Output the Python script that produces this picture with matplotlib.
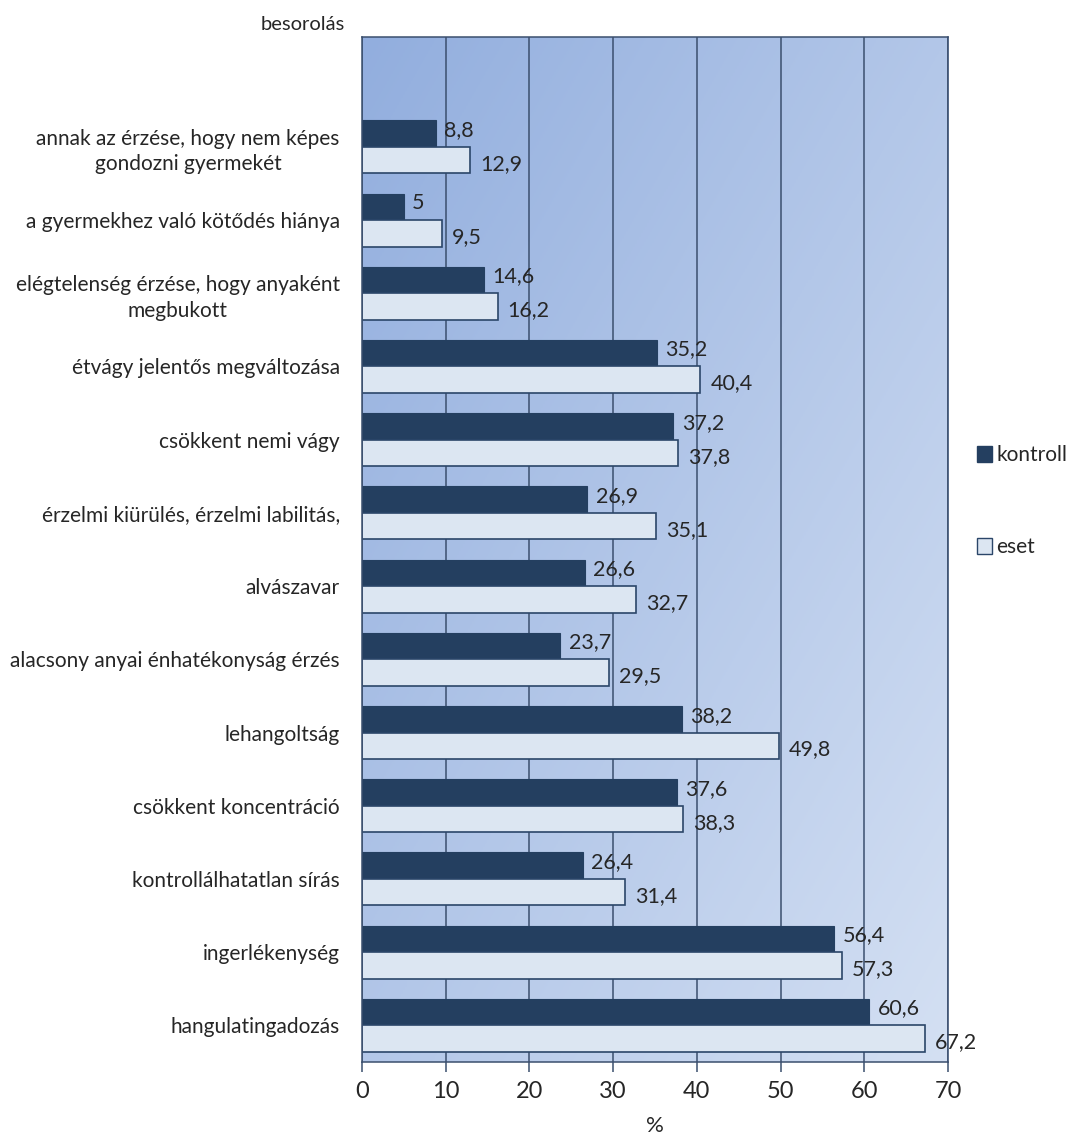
import numpy as np
import matplotlib.pyplot as plt
from matplotlib.colors import LinearSegmentedColormap
from matplotlib.patches import Patch

plt.rcParams["font.family"] = ["Lato", "DejaVu Sans"]

# symptom categories, top to bottom
categories = [
    "annak az érzése, hogy nem képes\ngondozni gyermekét",
    "a gyermekhez való kötődés hiánya",
    "elégtelenség érzése, hogy anyaként\nmegbukott",
    "étvágy jelentős megváltozása",
    "csökkent nemi vágy",
    "érzelmi kiürülés, érzelmi labilitás,",
    "alvászavar",
    "alacsony anyai énhatékonyság érzés",
    "lehangoltság",
    "csökkent koncentráció",
    "kontrollálhatatlan sírás",
    "ingerlékenység",
    "hangulatingadozás",
]
kontroll = [8.8, 5, 14.6, 35.2, 37.2, 26.9, 26.6, 23.7, 38.2, 37.6, 26.4, 56.4, 60.6]
eset = [12.9, 9.5, 16.2, 40.4, 37.8, 35.1, 32.7, 29.5, 49.8, 38.3, 31.4, 57.3, 67.2]
xticks = [0, 10, 20, 30, 40, 50, 60, 70]

DARK = "#243f60"
LIGHT = "#dce6f2"
EDGE = "#2b4669"
GRID = "#3b4f6e"
TEXT = "#262626"

fig = plt.figure(figsize=(10.7, 11.47), dpi=100)
ax = fig.add_axes([0.3383, 0.0741, 0.5477, 0.8936])

# diagonal blue gradient behind the plot area
gx, gy = np.meshgrid(np.linspace(0, 1, 300), np.linspace(0, 1, 300))
grad = 0.5 * (gx + gy)
cmap = LinearSegmentedColormap.from_list("bg", ["#92aede", "#d4e0f3"])
ax.imshow(grad, cmap=cmap, extent=[0, 1, 0, 1], transform=ax.transAxes,
          aspect="auto", origin="upper", zorder=0)

n = len(categories)
pos = np.arange(n)[::-1].astype(float)
h = 0.362

ax.barh(pos + h / 2, kontroll, height=h, color=DARK, edgecolor=DARK,
        linewidth=0.8, zorder=3, label="kontroll")
ax.barh(pos - h / 2, eset, height=h, color=LIGHT, edgecolor=EDGE,
        linewidth=1.2, zorder=3, label="eset")

def fmt(v):
    return f"{v:g}".replace(".", ",")

for y, k, e in zip(pos, kontroll, eset):
    ax.text(k + 1.0, y + h / 2 + 0.05, fmt(k), va="center", ha="left",
            fontsize=15.5, color=TEXT, zorder=4)
    ax.text(e + 1.2, y - h / 2 - 0.05, fmt(e), va="center", ha="left",
            fontsize=15.5, color=TEXT, zorder=4)

ax.set_xlim(0, 70)
ax.set_ylim(-0.5, n + 0.5)
ax.set_xticks(xticks)
ax.set_xticklabels([str(t) for t in xticks], fontsize=17, color=TEXT)
ax.set_yticks(pos)
ax.set_yticklabels(categories, fontsize=15, color=TEXT, ha="right",
                   multialignment="center", linespacing=1.35)
ax.tick_params(axis="y", length=0, pad=16)
ax.tick_params(axis="x", direction="out", length=7, width=1.1, color=GRID, pad=7)

ax.grid(axis="x", color=GRID, linewidth=1.1, zorder=1)
ax.set_axisbelow(True)
for sp in ax.spines.values():
    sp.set_color(GRID)
    sp.set_linewidth(1.1)
    sp.set_zorder(5)

ax.set_xlabel("%", fontsize=16, color=TEXT, labelpad=10)
fig.text(345 / 1070, 1 - 24 / 1147, "besorolás", ha="right", va="center",
         fontsize=14.5, color=TEXT)

handles = [Patch(facecolor=DARK, edgecolor=DARK, label="kontroll"),
           Patch(facecolor=LIGHT, edgecolor=EDGE, label="eset")]
fig.legend(handles=handles, loc="center left", bbox_to_anchor=(958 / 1070, 0.563),
           frameon=False, fontsize=15, handlelength=0.75, handleheight=0.75,
           handletextpad=0.2, labelspacing=3.45, labelcolor=TEXT)

fig.savefig("out.png", dpi=100)
